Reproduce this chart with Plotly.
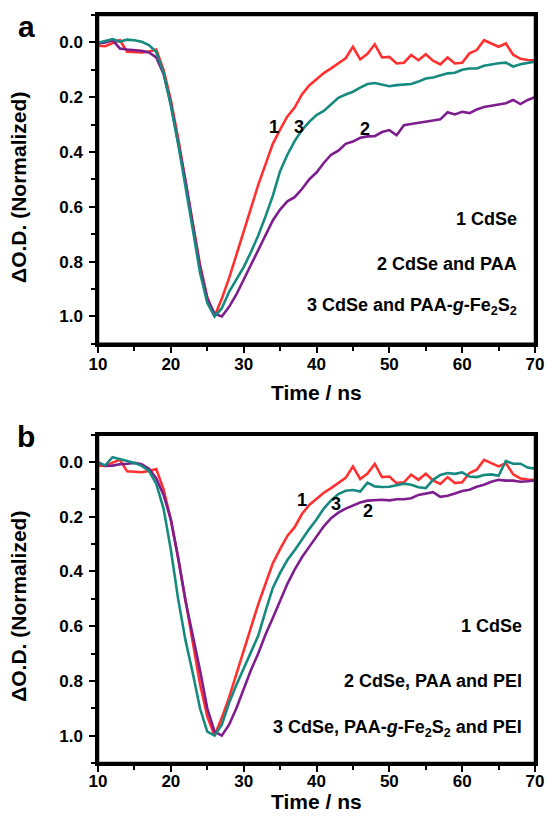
import plotly.graph_objects as go

# ---------------- data ----------------
time_ns = list(range(10, 71))

cdse = [0.012, 0.014, 0.002, -0.008, 0.034, 0.036, 0.037, 0.033, 0.026, 0.10,
        0.21, 0.35, 0.50, 0.66, 0.81, 0.93, 1.0, 0.935, 0.86, 0.775,
        0.69, 0.61, 0.52, 0.445, 0.37, 0.318, 0.27, 0.238, 0.19, 0.157,
        0.135, 0.112, 0.095, 0.075, 0.058, 0.016, 0.062, 0.042, 0.007, 0.055,
        0.053, 0.077, 0.074, 0.046, 0.065, 0.043, 0.067, 0.08, 0.055, 0.077,
        0.074, 0.04, 0.028, -0.008, 0.004, 0.016, 0.004, 0.045, 0.06, 0.064,
        0.065]

cdse_paa = [0.004, 0.0, -0.008, 0.022, 0.026, 0.028, 0.031, 0.037, 0.055, 0.115,
            0.225, 0.365, 0.505, 0.665, 0.82, 0.935, 0.99, 1.0, 0.965, 0.92,
            0.865, 0.81, 0.755, 0.70, 0.65, 0.61, 0.58, 0.565, 0.535, 0.50,
            0.475, 0.44, 0.41, 0.395, 0.37, 0.362, 0.348, 0.343, 0.342, 0.327,
            0.32, 0.339, 0.302, 0.298, 0.293, 0.289, 0.285, 0.281, 0.255, 0.263,
            0.253, 0.258, 0.245, 0.236, 0.232, 0.228, 0.222, 0.21, 0.225, 0.21,
            0.2]

cdse_paa_fes = [0.002, -0.005, -0.012, -0.003, -0.01, -0.008, -0.002, 0.01, 0.035, 0.11,
                0.23, 0.37, 0.52, 0.68, 0.84, 0.95, 1.0, 0.97, 0.91, 0.865,
                0.82, 0.765, 0.705, 0.635, 0.56, 0.47, 0.41, 0.36, 0.32, 0.29,
                0.265, 0.25, 0.225, 0.202, 0.19, 0.18, 0.165, 0.152, 0.148, 0.155,
                0.16, 0.156, 0.154, 0.152, 0.143, 0.132, 0.128, 0.12, 0.113, 0.111,
                0.10, 0.095, 0.095, 0.085, 0.08, 0.076, 0.074, 0.088, 0.08, 0.075,
                0.07]

cdse_paa_pei = [0.0, 0.014, 0.013, 0.008, 0.006, 0.003, 0.008, 0.024, 0.06, 0.12,
                0.21, 0.35, 0.505, 0.63, 0.76, 0.9, 0.985, 1.0, 0.96, 0.9,
                0.83, 0.76, 0.70, 0.63, 0.57, 0.505, 0.445, 0.393, 0.348, 0.31,
                0.273, 0.235, 0.205, 0.185, 0.17, 0.158, 0.148, 0.141, 0.14, 0.138,
                0.14, 0.136, 0.136, 0.132, 0.12, 0.114, 0.11, 0.127, 0.123, 0.115,
                0.106, 0.101, 0.09, 0.083, 0.072, 0.065, 0.068, 0.068, 0.072, 0.07,
                0.067]

cdse_paa_fes_pei = [0.002, 0.012, -0.018, -0.012, -0.004, 0.003, 0.014, 0.032, 0.08, 0.17,
                    0.32, 0.50, 0.65, 0.77, 0.9, 0.985, 1.0, 0.96, 0.88, 0.815,
                    0.755, 0.695, 0.635, 0.545, 0.46, 0.405, 0.358, 0.322, 0.283, 0.245,
                    0.21, 0.17, 0.14, 0.117, 0.105, 0.102, 0.108, 0.075, 0.089, 0.091,
                    0.09, 0.085, 0.079, 0.083, 0.092, 0.095, 0.065, 0.047, 0.04, 0.043,
                    0.038, 0.053, 0.055, 0.047, 0.045, 0.05, -0.004, 0.006, 0.006, 0.02,
                    0.024]

legend_a = ["1 CdSe", "2 CdSe and PAA", "3 CdSe and PAA-<i>g</i>-Fe<sub>2</sub>S<sub>2</sub>"]
legend_b = ["1 CdSe", "2 CdSe, PAA and PEI",
            "3 CdSe, PAA-<i>g</i>-Fe<sub>2</sub>S<sub>2</sub> and PEI"]
x_ticks = [10, 20, 30, 40, 50, 60, 70]
y_ticks = [0.0, 0.2, 0.4, 0.6, 0.8, 1.0]

# ---------------- style ----------------
RED = "#FF3030"
TEAL = "#178A80"
PURPLE = "#7E1E8E"
FONT = "Liberation Sans, Arial, sans-serif"
LW = 2.6

fig = go.Figure()

def add(x, y, color, xa, ya):
    fig.add_trace(go.Scatter(x=x, y=y, mode="lines", line=dict(color=color, width=LW),
                             xaxis=xa, yaxis=ya, showlegend=False, hoverinfo="skip"))

# panel a
add(time_ns, cdse, RED, "x", "y")
add(time_ns, cdse_paa, PURPLE, "x", "y")
add(time_ns, cdse_paa_fes, TEAL, "x", "y")
# panel b
add(time_ns, cdse, RED, "x2", "y2")
add(time_ns, cdse_paa_pei, PURPLE, "x2", "y2")
add(time_ns, cdse_paa_fes_pei, TEAL, "x2", "y2")

xcommon = dict(range=[10, 70], tickvals=x_ticks, ticks="outside", ticklen=6, tickwidth=2,
               tickcolor="black", showline=True, linewidth=2.5, linecolor="black", mirror=True,
               showgrid=False, zeroline=False,
               minor=dict(dtick=5, tick0=10, ticks="outside", ticklen=4, tickwidth=2, tickcolor="black"),
               tickfont=dict(family=FONT, size=17, color="black", weight="bold"))
ycommon = dict(range=[1.1, -0.1], tickvals=y_ticks, tickformat=".1f", ticks="outside", ticklen=6,
               tickwidth=2, tickcolor="black", showline=True, linewidth=2.5, linecolor="black",
               mirror=True, showgrid=False, zeroline=False, ticklabelstandoff=3,
               minor=dict(dtick=0.1, tick0=0, ticks="outside", ticklen=4, tickwidth=2, tickcolor="black"),
               tickfont=dict(family=FONT, size=17, color="black", weight="bold"))

fig.update_layout(
    width=556, height=821,
    margin=dict(l=98, r=12, t=14, b=58),
    paper_bgcolor="white", plot_bgcolor="white",
    xaxis=dict(domain=[0, 1], anchor="y", ticklabelstandoff=-3, **xcommon),
    yaxis=dict(domain=[0.5604, 1.0], anchor="x", **ycommon),
    xaxis2=dict(domain=[0, 1], anchor="y2", ticklabelstandoff=-5, **xcommon),
    yaxis2=dict(domain=[0.0, 0.4389], anchor="x2", **ycommon),
)

# frame boxes (guarantee full box on each panel)
for xr, yr in (("x domain", "y domain"), ("x2 domain", "y2 domain")):
    fig.add_shape(type="rect", xref=xr, yref=yr, x0=0, x1=1, y0=0, y1=1,
                  line=dict(color="black", width=2.5), fillcolor="rgba(0,0,0,0)", layer="above")

ann = []
def txt(text, x, y, xref, yref, size, xanchor="center", yanchor="middle", angle=0):
    ann.append(dict(text=text, x=x, y=y, xref=xref, yref=yref, showarrow=False,
                    xanchor=xanchor, yanchor=yanchor, textangle=angle, borderpad=0,
                    font=dict(family=FONT, size=size, color="black", weight="bold")))

# panel letters
txt("a", -0.1637, 0.985, "paper", "paper", 30)
txt("b", -0.1637, 0.4366, "paper", "paper", 30)
# axis titles
txt("Time / ns", 0.5, 0.4953, "paper", "paper", 21)
txt("Time / ns", 0.5, -0.0515, "paper", "paper", 21)
txt("ΔO.D. (Normalized)", -0.1816, 0.7697, "paper", "paper", 21, angle=-90)
txt("ΔO.D. (Normalized)", -0.1816, 0.2096, "paper", "paper", 21, angle=-90)
# curve labels
txt("1", 34.19, 0.309, "x", "y", 18)
txt("3", 37.63, 0.309, "x", "y", 18)
txt("2", 46.66, 0.317, "x", "y", 18)
txt("1", 37.96, 0.137, "x2", "y2", 18)
txt("3", 42.61, 0.152, "x2", "y2", 18)
txt("2", 47.06, 0.180, "x2", "y2", 18)
# legends
for s, yy in zip(legend_a, [0.646, 0.807, 0.965]):
    txt(s, 0.9607, yy, "paper", "y", 18, xanchor="right")
for s, yy in zip(legend_b, [0.60, 0.80, 0.975]):
    txt(s, 0.973, yy, "paper", "y2", 18, xanchor="right")

fig.update_layout(annotations=ann)
fig.write_html("out.html", config={"displayModeBar": False},
               post_script="document.body.style.margin='0';document.body.style.padding='0';")
